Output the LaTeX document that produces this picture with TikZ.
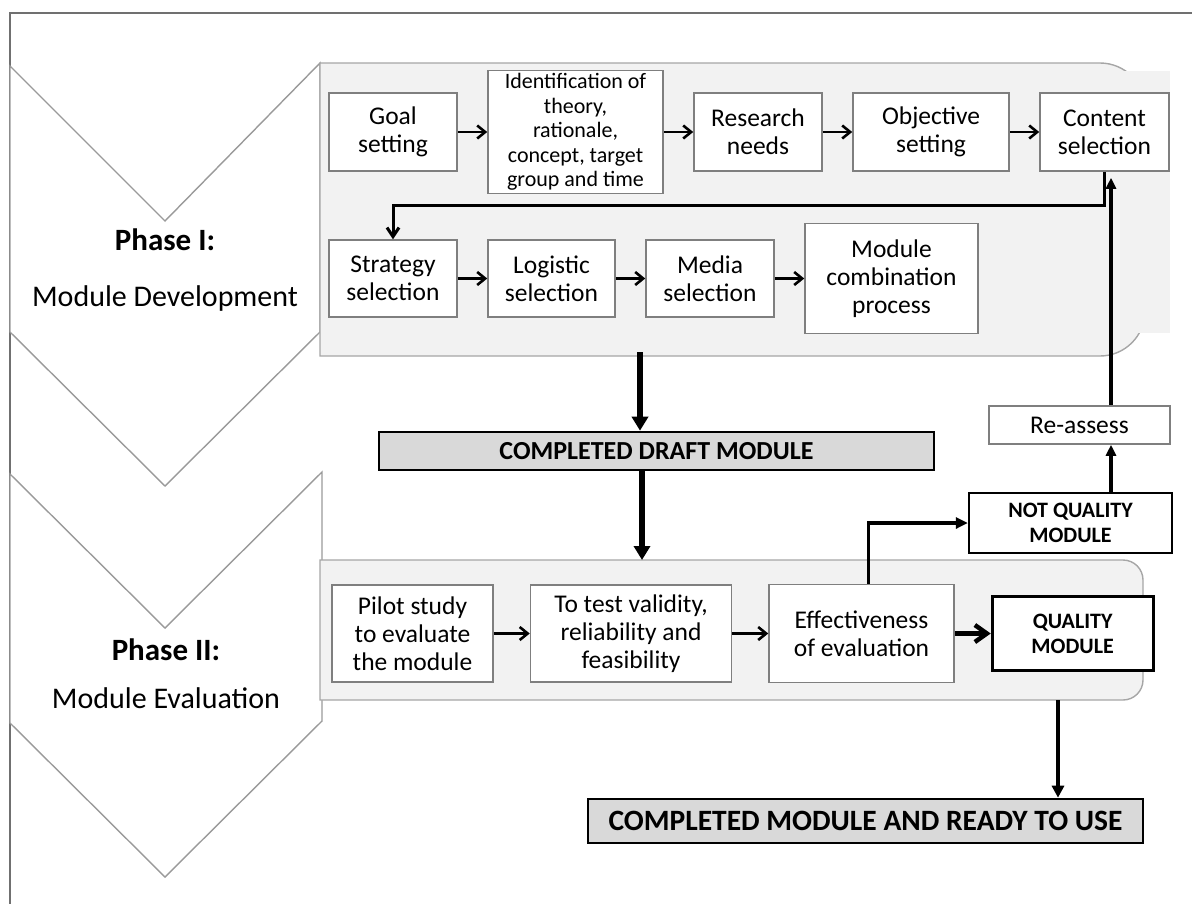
\documentclass[tikz,border=0pt]{standalone}
\usepackage{fontspec}
\setmainfont{Carlito}
\usepackage{xcolor}
\usetikzlibrary{arrows.meta,positioning,calc}

\definecolor{framegray}{HTML}{707070}
\definecolor{chevgray}{HTML}{9A9A9A}
\definecolor{panelline}{HTML}{A6A6A6}
\definecolor{panelfill}{HTML}{F2F2F2}
\definecolor{boxline}{HTML}{7F7F7F}
\definecolor{bannerfill}{HTML}{D9D9D9}

\begin{document}
\begin{tikzpicture}[
  x=1pt, y=-1pt,
  chev/.style={draw=chevgray,fill=white,line width=1.4pt},
  panel/.style={draw=panelline,fill=panelfill,line width=1.4pt},
  box/.style={rectangle,draw=boxline,fill=white,line width=1.5pt,inner sep=0pt,align=center,font=\fontsize{25.5}{28}\selectfont},
  idfont/.style={font=\fontsize{22}{24.5}\selectfont},
  verdict/.style={rectangle,draw=black,fill=white,line width=2.4pt,inner sep=0pt,align=center,font=\bfseries\fontsize{22}{25}\selectfont},
  banner/.style={rectangle,draw=black,fill=bannerfill,line width=2.6pt,inner sep=0pt,font=\bfseries\fontsize{26}{30}\selectfont},
  phase/.style={anchor=base,font=\fontsize{30}{36}\selectfont},
  arr/.style={-{Straight Barb[length=8pt,width=13pt]},line width=2.6pt},
  loop/.style={-{Straight Barb[length=9pt,width=12pt]},line width=3pt},
  fat/.style={-{Triangle[length=14pt,width=16pt]},line width=6pt},
  back/.style={-{Triangle[length=11pt,width=10pt]},line width=3.5pt},
  node distance=29.5pt
]
\useasboundingbox (0,0) rectangle (1192,903);

% page frame (only top and left show)
\draw[framegray,line width=1.4pt] (10,910) -- (10,13) -- (1200,13);

% phase chevrons
\draw[chev] (10,66) -- (165,221) -- (320,63) -- (320,332) -- (165,486) -- (10,332) -- cycle;
\draw[chev] (10,474) -- (165,628) -- (322,472) -- (322,721) -- (165,877) -- (10,723) -- cycle;

\node[phase,font=\bfseries\fontsize{31}{36}\selectfont] (ph1) at (165,250) {Phase I:};
\node[phase] (ph1sub) at (165,306) {Module Development};
\node[phase,font=\bfseries\fontsize{31}{36}\selectfont] (ph2) at (166,660) {Phase II:};
\node[phase] (ph2sub) at (166,708) {Module Evaluation};

% development panel
\draw[panel] (320,63) -- (1100,63) arc[start angle=-90,end angle=0,radius=45]
  -- (1145,311) arc[start angle=0,end angle=90,radius=45] -- (320,356) -- cycle;
\fill[panelfill] (1118,71) rectangle (1170,333);

% evaluation panel
\draw[panel] (320,560) -- (1123,560) arc[start angle=-90,end angle=0,radius=20]
  -- (1143,680) arc[start angle=0,end angle=90,radius=20] -- (320,700) -- cycle;

\coordinate (devout) at (640,352);
\coordinate (evalin) at (642,560);
\coordinate (evalout) at (1058,700);
\coordinate (fb) at (1111,0);

% first row
\node[box,minimum width=128pt,minimum height=78pt] (goal) at (393,132) {Goal\\setting};
\node[box,idfont,minimum width=175pt,minimum height=123pt,right=of goal] (ident)
  {Identification of\\theory,\\rationale,\\concept, target\\group and time};
\node[box,minimum width=128pt,minimum height=78pt,right=of ident] (research) {Research\\needs};
\node[box,minimum width=156pt,minimum height=78pt,right=of research] (objective) {Objective\\setting};
\node[box,minimum width=129pt,minimum height=78pt,right=of objective] (content) {Content\\selection};

% second row
\node[box,minimum width=128pt,minimum height=77pt] (strategy) at (393,278.5) {Strategy\\selection};
\node[box,minimum width=127pt,minimum height=77pt,right=of strategy] (logistic) {Logistic\\selection};
\node[box,minimum width=128pt,minimum height=77pt,right=of logistic] (media) {Media\\selection};
\node[box,minimum width=173pt,minimum height=110pt,right=of media] (combine) {Module\\combination\\process};

\draw[arr] (goal) -- (ident);
\draw[arr] (ident) -- (research);
\draw[arr] (research) -- (objective);
\draw[arr] (objective) -- (content);
\draw[loop] (content.south) -- ++(0,34) -| (strategy.north);
\draw[arr] (strategy) -- (logistic);
\draw[arr] (logistic) -- (media);
\draw[arr] (media) -- (combine);

% draft
\node[banner,minimum width=555pt,minimum height=38pt] (draft) at (656.5,451) {COMPLETED DRAFT MODULE};
\draw[fat] (devout) -- (devout |- draft.north);
\draw[fat] (draft.south -| evalin) -- (evalin);

% evaluation row
\node[box,minimum width=161pt,minimum height=97pt] (pilot) at (412.5,633.5) {Pilot study\\to evaluate\\the module};
\node[box,minimum width=201pt,minimum height=97pt,right=36pt of pilot] (validity) {To test validity,\\reliability and\\feasibility};
\node[box,minimum width=185pt,minimum height=98pt,right=36pt of validity] (effect) {Effectiveness\\of evaluation};
\node[verdict,line width=2.8pt,minimum width=161pt,minimum height=74pt,right=36pt of effect] (quality) {QUALITY\\MODULE};

\draw[arr] (pilot) -- (validity);
\draw[arr] (validity) -- (effect);
\draw[-{Straight Barb[length=12pt,width=17pt]},line width=4.5pt] (effect) -- (quality);

% feedback loop
\node[verdict,minimum width=203pt,minimum height=60pt] (notq) at (1070.5,523) {NOT QUALITY\\MODULE};
\node[box,minimum width=181pt,minimum height=38pt] (reassess) at (1079.5,425) {Re-assess};
\draw[-{Triangle[length=12pt,width=11pt]},line width=3.5pt] ([xshift=7pt]effect.north) |- (notq.west);
\draw[back] (notq.north -| fb) -- (reassess.south -| fb);
\draw[back] (reassess.north -| fb) -- ([yshift=-6pt]content.south -| fb);

% finished module
\node[banner,font=\bfseries\fontsize{29.5}{34}\selectfont,minimum width=555pt,minimum height=44pt] (final) at (865.5,821) {COMPLETED MODULE AND READY TO USE};
\draw[-{Triangle[length=12pt,width=12pt]},line width=3.3pt] (evalout) -- (evalout |- final.north);
\end{tikzpicture}
\end{document}
